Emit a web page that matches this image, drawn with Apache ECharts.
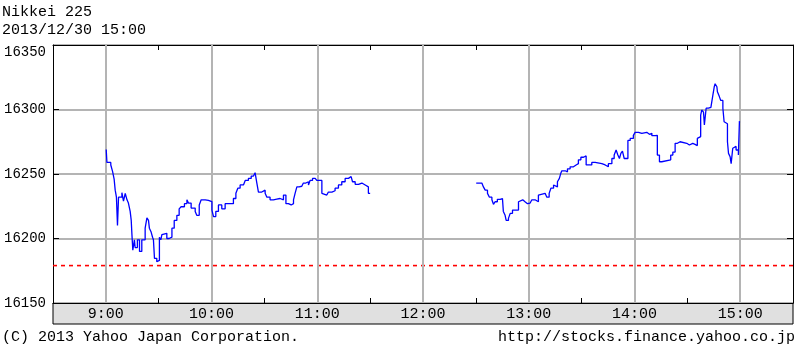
<!DOCTYPE html>
<html><head><meta charset="utf-8">
<script src="https://cdn.jsdelivr.net/npm/echarts@6/dist/echarts.min.js"></script>
<style>html,body{margin:0;padding:0;background:#fff}#c{width:800px;height:347px}</style>
</head><body><div id="c"></div>
<script>
const titleText = 'Nikkei 225';
const dateText = '2013/12/30 15:00';
const copyrightText = '(C) 2013 Yahoo Japan Corporation.';
const urlText = 'http://stocks.finance.yahoo.co.jp';
const hourLabels = ['9:00','10:00','11:00','12:00','13:00','14:00','15:00'];
const yTicks = [16150, 16200, 16250, 16300, 16350];
const prevClose = 16179;
// time in minutes after 9:00, value of the index (step changes)
const morningT = [0.2,0.6,2.8,3.8,4.7,5.3,6.0,6.6,7.2,9.1,10,11,12,12.8,13.8,14.4,14.8,15.3,16.2,16.6,17.9,19.1,20.4,22.3,23.3,24.2,24.7,25.7,26.5,27.0,27.6,28.9,29.9,30.4,31.2,31.8,32.7,34.6,35.9,37.5,38.8,40.3,41.6,42.7,44.6,46.0,46.9,48.4,50.7,51.6,53.0,54.1,56.4,58.2,60.2,61.1,62.4,63.9,65.8,67.7,72.4,73.8,74.9,76.2,78.1,79.1,80.9,82.5,83.8,84.7,85.7,86.6,88.5,90.4,91.4,93.2,95.1,97.0,98.9,100.8,102.2,103.6,105.2,106.5,107.4,108.4,109.7,111.2,112.1,113.5,115.0,115.9,117.3,118.8,119.7,122.6,123.5,125.4,126.3,128.3,130.1,132.0,133.9,135.8,137.7,139.2,140.0,141.5,143.4,145.3,147.2,148.1,149.0,150];
const morningV = [16269,16259,16257,16252,16246,16237.5,16232,16210,16232,16235.5,16229,16235,16230,16227.5,16221,16214,16203,16191,16199,16193,16199,16190,16199,16208,16216,16214,16208,16205,16201,16199,16184.6,16182,16183,16201,16199,16203,16204,16200,16201,16208,16214,16218,16223,16224.6,16227,16230,16227.5,16223.6,16221,16218,16226,16230,16229.5,16228.5,16222,16217,16221,16226,16223,16227,16231,16235,16239,16241.5,16243,16245,16246.6,16248.4,16249,16251,16243,16236,16237.5,16235,16232,16230,16230.5,16231,16230,16233.7,16227,16226,16227,16230,16235,16240,16240.5,16241.5,16243,16244,16241.5,16245,16246.6,16248,16245,16235,16233.7,16235,16236,16237,16239,16241.5,16244,16246.6,16248,16249,16244,16242,16243,16241.5,16242,16240,16235,16235];
const afternoonT = [210.2,213.4,214.3,215.3,216.6,217.7,219.1,220.0,220.9,222.2,223.8,225.1,225.6,226.6,227.2,228.5,229.5,230.8,234.2,235.1,236.6,237.9,239.3,240.8,241.8,243.6,244.6,245.5,246.5,249.3,250.3,251.6,252.6,254.1,255.0,256.3,257.4,258.2,258.8,260.7,262.0,263.5,265.4,266.9,268.2,269.6,271.1,272.6,275.8,277.7,281.5,283.4,285.2,287.2,288.5,289.6,290.6,291.5,292.3,293.2,294.2,296.3,297.6,299.4,300.4,302.3,304.2,305.1,307.0,308.5,309.9,311.8,313.0,314.2,315.5,320.6,321.8,323.1,324.4,325.9,329.7,331.2,333.1,334.4,335.7,336.8,337.6,338.2,339.2,339.7,340.7,342.0,343.4,344.5,345.3,345.8,346.8,347.1,348.2,349.0,350.2,350.9,352.0,352.8,353.4,354.3,354.9,355.8,356.6,357.7,359.0,359.6,360];
const afternoonV = [16243,16241.5,16240,16237.5,16235,16232,16230,16226.5,16228.5,16230.4,16231,16230,16221,16218,16214,16215.6,16219.5,16222,16228.5,16230,16228.5,16227,16227.5,16226.7,16230,16230.5,16228.5,16233.7,16235,16233.7,16232,16235,16239,16241.5,16240,16244,16246.6,16250.5,16252.5,16251.7,16254,16255.6,16257,16258,16261,16263,16264,16257,16259,16258,16257,16255.6,16258,16262,16264.7,16268.6,16264.7,16262,16266,16267.8,16262,16276,16277.6,16280,16282.3,16281.5,16280,16282.3,16280.8,16281.5,16279.7,16280,16264.7,16259.5,16261,16264.7,16267,16273.8,16275,16273.8,16272.5,16273.8,16273,16272,16277.6,16279,16295.7,16299.6,16298,16288,16301,16301.7,16302,16311,16317.6,16320,16317.6,16313.8,16310,16307,16301,16290.5,16289,16275,16266,16263.4,16258,16270,16271.4,16268.6,16264.7,16291,16291];

const FONT = '"Liberation Mono", "DejaVu Sans Mono", monospace';
const zip = (t, v) => t.map((x, i) => [x, v[i]]);
const hourOffsets = hourLabels.map((_, i) => i * 60);
const X_MIN = -30, X_MAX = 390;

const chart = echarts.init(document.getElementById('c'), null, {renderer: 'canvas'});
const xBase = {
  type: 'value', min: X_MIN, max: X_MAX, interval: 30,
  axisLine: {show: true, onZero: false, lineStyle: {color: '#000', width: 1}},
  axisTick: {show: true, inside: true, length: 5, lineStyle: {color: '#000'}},
  splitLine: {show: false}
};
const yBase = {
  type: 'value', min: yTicks[0], max: yTicks[yTicks.length - 1], interval: 50,
  axisLine: {show: true, onZero: false, lineStyle: {color: '#000', width: 1}},
  axisTick: {show: true, inside: true, length: 6, lineStyle: {color: '#000'}}
};
chart.setOption({
  backgroundColor: '#fff',
  animation: false,
  grid: {left: 53, right: 7, top: 45, bottom: 44, containLabel: false, outerBoundsMode: 'none'},
  xAxis: [
    Object.assign({}, xBase, {
      position: 'bottom',
      axisLabel: {
        show: true, margin: 4, color: '#000', fontFamily: FONT, fontSize: 15,
        formatter: v => (v % 60 === 0 && v >= 0 && v <= 360) ? hourLabels[v / 60] : ''
      }
    }),
    Object.assign({}, xBase, {position: 'top', axisLabel: {show: false}})
  ],
  yAxis: [
    Object.assign({}, yBase, {
      position: 'left',
      splitLine: {show: true, lineStyle: {color: '#b4b4b4', width: 2}},
      axisLabel: {show: true, margin: 7, color: '#000', fontFamily: FONT, fontSize: 14,
        verticalAlignMaxLabel: 'top', formatter: v => String(v)}
    }),
    Object.assign({}, yBase, {position: 'right', splitLine: {show: false}, axisLabel: {show: false}})
  ],
  series: [
    {
      type: 'line', name: 'grid', data: [], z: 1, silent: true,
      markLine: {
        silent: true, symbol: 'none', label: {show: false}, animation: false,
        lineStyle: {color: '#b4b4b4', width: 2, type: 'solid'},
        data: hourOffsets.map(h => ({xAxis: h}))
      }
    },
    {
      type: 'line', name: 'prevClose', data: [[X_MIN, prevClose], [X_MAX, prevClose]],
      showSymbol: false, symbol: 'none', z: 2, silent: true, color: '#ff0000',
      itemStyle: {color: '#ff0000'},
      lineStyle: {color: '#ff0000', width: 1.6, type: [4, 4]}
    },
    {
      type: 'line', name: 'morning', data: zip(morningT, morningV), step: 'end',
      showSymbol: false, symbol: 'none', z: 5, color: '#0000ff',
      lineStyle: {color: '#0000ff', width: 1.3}
    },
    {
      type: 'line', name: 'afternoon', data: zip(afternoonT, afternoonV), step: 'end',
      showSymbol: false, symbol: 'none', z: 5, color: '#0000ff',
      lineStyle: {color: '#0000ff', width: 1.3}
    }
  ],
  graphic: [
    {type: 'rect', z: -10, shape: {x: 53, y: 303, width: 740, height: 21},
      style: {fill: '#e0e0e0', stroke: '#000', lineWidth: 1}},
    {type: 'text', x: 2, y: 12, style: {text: titleText, font: '15px ' + FONT, fill: '#000', align: 'left', verticalAlign: 'middle', textAlign: 'left', textVerticalAlign: 'middle'}},
    {type: 'text', x: 2, y: 30, style: {text: dateText, font: '15px ' + FONT, fill: '#000', align: 'left', verticalAlign: 'middle', textAlign: 'left', textVerticalAlign: 'middle'}},
    {type: 'text', x: 2, y: 337, style: {text: copyrightText, font: '15px ' + FONT, fill: '#000', align: 'left', verticalAlign: 'middle', textAlign: 'left', textVerticalAlign: 'middle'}},
    {type: 'text', x: 795, y: 337, style: {text: urlText, font: '15px ' + FONT, fill: '#000', align: 'right', verticalAlign: 'middle', textAlign: 'right', textVerticalAlign: 'middle'}}
  ]
});
</script>
</body></html>
